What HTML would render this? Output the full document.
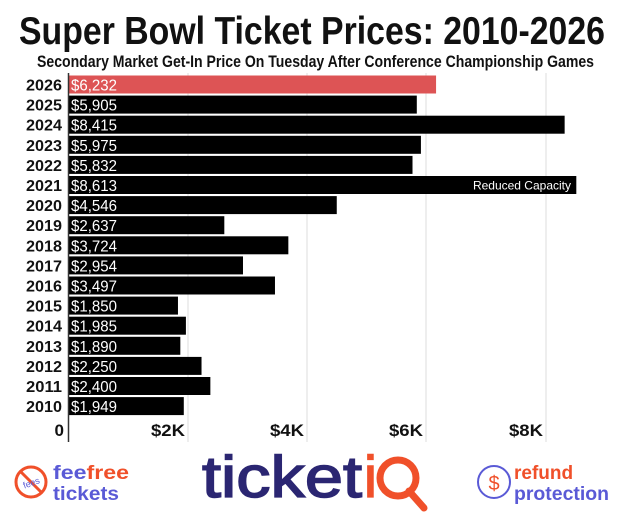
<!DOCTYPE html>
<html><head><meta charset="utf-8"><style>
html,body{margin:0;padding:0;background:#fff;width:620px;height:513px;overflow:hidden}
svg{display:block;font-family:"Liberation Sans",sans-serif}
</style></head><body>
<svg width="620" height="513" viewBox="0 0 620 513">
<text x="19" y="44" font-size="39" font-weight="bold" textLength="586" lengthAdjust="spacingAndGlyphs" fill="#111">Super Bowl Ticket Prices: 2010-2026</text>
<text x="37" y="67" font-size="17" font-weight="bold" textLength="557" lengthAdjust="spacingAndGlyphs" fill="#111">Secondary Market Get-In Price On Tuesday After Conference Championship Games</text>
<g stroke="#ddd" stroke-width="1">
<line x1="188" y1="73" x2="188" y2="442"/><line x1="307" y1="73" x2="307" y2="442"/>
<line x1="426" y1="73" x2="426" y2="442"/><line x1="546" y1="73" x2="546" y2="442"/>
</g>
<g id="bars" font-size="16"></g>
<line x1="68.5" y1="73" x2="68.5" y2="442" stroke="#333" stroke-width="1.5"/>
<g font-size="17" font-weight="bold" fill="#111" text-anchor="end">
<text x="64" y="436">0</text>
<text x="185" y="436" textLength="34" lengthAdjust="spacingAndGlyphs">$2K</text>
<text x="304" y="436" textLength="34" lengthAdjust="spacingAndGlyphs">$4K</text>
<text x="423" y="436" textLength="34" lengthAdjust="spacingAndGlyphs">$6K</text>
<text x="543" y="436" textLength="34" lengthAdjust="spacingAndGlyphs">$8K</text>
</g>
<circle cx="31" cy="482" r="15" fill="none" stroke="#f0502a" stroke-width="3"/>
<line x1="20" y1="471" x2="42" y2="493" stroke="#f0502a" stroke-width="3"/>
<text x="31" y="486" font-size="9" fill="#5a5ad6" text-anchor="middle" transform="rotate(-20 31 482)">fees</text>
<text x="53" y="479" font-size="19" font-weight="bold" fill="#5a5ad6" textLength="76" lengthAdjust="spacingAndGlyphs">fee<tspan fill="#f0502a">free</tspan></text>
<text x="53" y="500" font-size="19" font-weight="bold" fill="#5a5ad6" textLength="66" lengthAdjust="spacingAndGlyphs">tickets</text>
<text x="202" y="497" font-size="58" fill="#2b2672" stroke="#2b2672" stroke-width="1.5" textLength="160" lengthAdjust="spacingAndGlyphs">ticket</text>
<text x="364" y="497" font-size="58" fill="#f0502a" stroke="#f0502a" stroke-width="1.5">i</text>
<circle cx="398" cy="478" r="18" fill="none" stroke="#f0502a" stroke-width="7"/>
<line x1="409" y1="491" x2="424" y2="508" stroke="#f0502a" stroke-width="7" stroke-linecap="round"/>
<circle cx="494" cy="482" r="16" fill="none" stroke="#5a5ad6" stroke-width="2"/>
<text x="494" y="490" font-size="20" fill="#f0502a" text-anchor="middle">$</text>
<text x="514" y="479" font-size="19" font-weight="bold" fill="#f0502a">refund</text>
<text x="514" y="500" font-size="19" font-weight="bold" fill="#5a5ad6" textLength="95" lengthAdjust="spacingAndGlyphs">protection</text>
</svg>
<script>
var d=[[2026,6232],[2025,5905],[2024,8415],[2023,5975],[2022,5832],[2021,8613],[2020,4546],[2019,2637],[2018,3724],[2017,2954],[2016,3497],[2015,1850],[2014,1985],[2013,1890],[2012,2250],[2011,2400],[2010,1949]];
var g=document.getElementById('bars'),s='';
d.forEach(function(r,i){var y=75.5+i*20.1,w=r[1]*0.0589;
s+='<rect x="69" y="'+y+'" width="'+w+'" height="18" fill="'+(i==0?'#dd5455':'#000')+'"/>';
s+='<text x="62" y="'+(y+15)+'" font-weight="bold" text-anchor="end" fill="#111" textLength="36" lengthAdjust="spacingAndGlyphs">'+r[0]+'</text>';
s+='<text x="71" y="'+(y+15)+'" fill="#fff" textLength="46" lengthAdjust="spacingAndGlyphs">$'+r[1].toLocaleString('en-US')+'</text>';
if(r[0]==2021)s+='<text x="571" y="'+(y+13.5)+'" font-size="12" fill="#fff" text-anchor="end">Reduced Capacity</text>';});
g.innerHTML=s;
</script>
</body></html>
